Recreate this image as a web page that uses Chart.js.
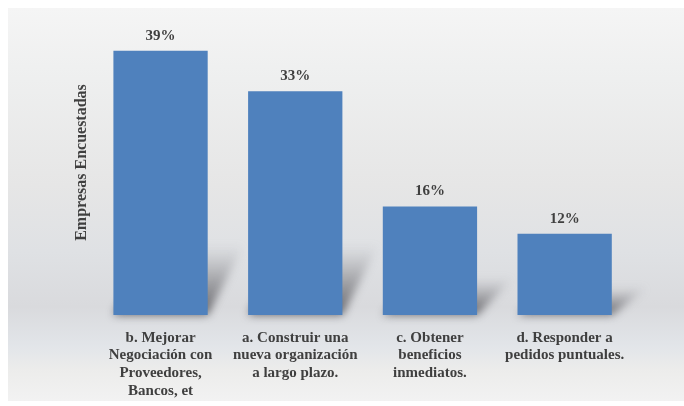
<!DOCTYPE html>
<html>
<head>
<meta charset="utf-8">
<script src="https://cdn.jsdelivr.net/npm/chart.js@4/dist/chart.umd.min.js"></script>
<style>
  html, body { margin: 0; padding: 0; background: #ffffff; overflow: hidden; }
  #grafica { display: block; }
</style>
</head>
<body>
<canvas id="grafica" width="684" height="406"></canvas>
<script>
// datos de la encuesta
const categorias = [
  ["b. Mejorar", "Negociación con", "Proveedores,", "Bancos, et"],
  ["a. Construir una", "nueva organización", "a largo plazo."],
  ["c. Obtener", "beneficios", "inmediatos."],
  ["d. Responder a", "pedidos puntuales."]
];
const porcentajes = [39, 33, 16, 12];
const tituloEje = "Empresas Encuestadas";

const fuente = "'Liberation Serif', 'DejaVu Serif', serif";
const colorTexto = "#3f3f3f";
const colorBarra = "#4f81bd";

// fondo con degradado gris
const fondo = {
  id: 'fondo',
  beforeDraw(chart) {
    const ctx = chart.ctx;
    ctx.save();
    ctx.fillStyle = "#ffffff";
    ctx.fillRect(0, 0, chart.width, chart.height);
    const g = ctx.createLinearGradient(0, 8, 0, 401);
    g.addColorStop(0, "#f5f5f5");
    g.addColorStop(0.15, "#eff0f0");
    g.addColorStop(0.45, "#e6e6e6");
    g.addColorStop(0.62, "#dfe1e4");
    g.addColorStop(0.76, "#d9dadd");
    g.addColorStop(0.86, "#e2e5e9");
    g.addColorStop(0.92, "#ececeb");
    g.addColorStop(1, "#f2f2f2");
    ctx.fillStyle = g;
    ctx.fillRect(8, 8, chart.width - 8, 393);
    ctx.restore();
  }
};

// sombra en perspectiva detras de cada barra
const sombra = {
  id: 'sombra',
  beforeDatasetsDraw(chart) {
    const ctx = chart.ctx;
    const meta = chart.getDatasetMeta(0);
    ctx.save();
    ctx.filter = "blur(4px)";
    meta.data.forEach(bar => {
      const p = bar.getProps(['x', 'y', 'base', 'width'], true);
      const izq = p.x - p.width / 2;
      const der = p.x + p.width / 2;
      const alto = Math.min((p.base - p.y) * 0.34, 70);
      const dx = 36;
      const g = ctx.createLinearGradient(0, p.base, 0, p.base - alto);
      g.addColorStop(0, "rgba(80,80,85,0.9)");
      g.addColorStop(0.5, "rgba(120,120,125,0.55)");
      g.addColorStop(1, "rgba(150,150,155,0)");
      ctx.fillStyle = g;
      ctx.beginPath();
      ctx.moveTo(izq, p.base);
      ctx.lineTo(der, p.base);
      ctx.lineTo(der + dx, p.base - alto);
      ctx.lineTo(izq + dx, p.base - alto);
      ctx.closePath();
      ctx.fill();
    });
    ctx.restore();
  }
};

// etiquetas de porcentaje sobre las barras
const etiquetas = {
  id: 'etiquetas',
  afterDatasetsDraw(chart) {
    const ctx = chart.ctx;
    const meta = chart.getDatasetMeta(0);
    ctx.save();
    ctx.font = "bold 15px " + fuente;
    ctx.fillStyle = colorTexto;
    ctx.textAlign = "center";
    ctx.textBaseline = "middle";
    meta.data.forEach((bar, i) => {
      ctx.fillText(porcentajes[i] + "%", bar.x, bar.y - 15);
    });
    ctx.restore();
  }
};

new Chart(document.getElementById('grafica'), {
  type: 'bar',
  data: {
    labels: categorias,
    datasets: [{
      data: porcentajes,
      backgroundColor: colorBarra,
      borderWidth: 0,
      categoryPercentage: 1,
      barPercentage: 0.7
    }]
  },
  options: {
    responsive: false,
    animation: false,
    devicePixelRatio: 1,
    layout: { padding: { left: 68, right: 52, top: 10, bottom: 4 } },
    plugins: {
      legend: { display: false },
      tooltip: { enabled: false }
    },
    scales: {
      x: {
        grid: { display: false, drawTicks: false },
        border: { display: false },
        ticks: {
          color: colorTexto,
          font: { family: fuente, size: 15, weight: 'bold', lineHeight: 1.18 },
          padding: 14,
          maxRotation: 0,
          autoSkip: false
        },
        afterFit(scale) { scale.height = 87; }
      },
      y: {
        min: 0,
        max: 45,
        grid: { display: false, drawTicks: false },
        border: { display: false },
        ticks: { display: false },
        title: {
          display: true,
          text: tituloEje,
          color: colorTexto,
          font: { family: fuente, size: 16, weight: 'bold' },
          padding: { top: 4, bottom: 2 }
        }
      }
    }
  },
  plugins: [fondo, sombra, etiquetas]
});
</script>
</body>
</html>
